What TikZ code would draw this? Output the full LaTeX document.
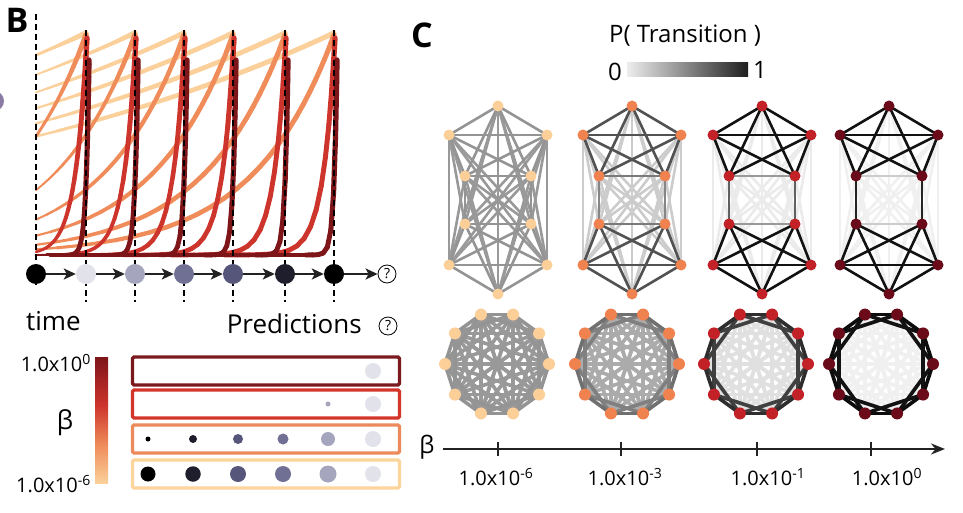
\documentclass[tikz,border=0pt]{standalone}
\usepackage{fontspec}
\setmainfont{Open Sans}
\usetikzlibrary{arrows.meta,calc,positioning}

\definecolor{betaA}{HTML}{FBD09A}
\definecolor{betaC}{HTML}{EF8C5A}
\definecolor{betaE}{HTML}{CD342C}
\definecolor{betaF}{HTML}{7D1519}
\definecolor{nodeA}{HTML}{FDCF98}
\definecolor{nodeB}{HTML}{F0824F}
\definecolor{nodeC}{HTML}{C22127}
\definecolor{nodeD}{HTML}{6B0B19}
\definecolor{stA}{HTML}{000000}
\definecolor{stB}{HTML}{E2E2EA}
\definecolor{stC}{HTML}{A5A5BD}
\definecolor{stD}{HTML}{707094}
\definecolor{stE}{HTML}{56567A}
\definecolor{stF}{HTML}{1E1E2C}
\definecolor{boxA}{HTML}{7B1A1E}
\definecolor{boxB}{HTML}{D4352B}
\definecolor{boxC}{HTML}{EC8A5C}
\definecolor{boxD}{HTML}{FBD59C}
\definecolor{inkgray}{HTML}{222222}
\definecolor{prevpanel}{HTML}{8A7BA5}

\begin{document}
\begin{tikzpicture}[
    x=1pt, y=-1pt,
    txtbig/.style={font=\fontsize{26}{30}\selectfont, inner sep=0pt},
    txtmid/.style={font=\fontsize{24}{28}\selectfont, inner sep=0pt},
    txtlbl/.style={font=\fontsize{20}{24}\selectfont, inner sep=0pt},
    panel/.style={font=\fontsize{34}{38}\selectfont\bfseries, inner sep=0pt},
    guide/.style={black, line width=1.4pt, dash pattern=on 6pt off 4pt},
    state/.style={circle, minimum size=20pt, inner sep=0pt},
    qmark/.style={circle, draw, line width=0.8pt, minimum size=18pt, inner sep=0pt, font=\fontsize{14}{14}\selectfont},
    flow/.style={inkgray, line width=2.2pt, -{Stealth[length=12pt,width=11pt,inset=3pt]}},
    predbox/.style={rectangle, rounded corners=1.5pt, line width=3.2pt, minimum width=267pt, minimum height=28pt, inner sep=0pt},
    dot/.style={circle, inner sep=0pt},
    gnode/.style={circle, minimum size=11pt, inner sep=0pt},
    rnode/.style={circle, minimum size=12pt, inner sep=0pt},
    gedge/.style={line width=2.6pt},
    redge/.style={line width=3.6pt},
    axis/.style={inkgray, line width=2pt, -{Stealth[length=14pt,width=11pt]}}
]
\fill[white] (0,0) rectangle (963,513);
\useasboundingbox (0,0) rectangle (963,513);

% ---------- panel B ----------
\fill[prevpanel] (-6,101) circle (10);
\node[panel] (labB) at (17,20) {B};

% memory traces
\foreach \lam/\col/\ytop/\dx in {475/betaA/33/0, 81/betaC/35/0, 12/betaE/38/1, 3/betaF/60/3} {
  \foreach \xk in {86,135,184,233,285,334} {
    \pgfmathsetmacro\dist{\xk+\dx-36}
    \foreach \seg in {1,...,28} {
      \pgfmathsetmacro\dstart{\dist*((29-\seg)/28)^2}
      \pgfmathsetmacro\dend{\dist*((28-\seg)/28)^2}
      \pgfmathsetmacro\ya{255-(255-\ytop)*exp(-min(\dstart/\lam,9))}
      \pgfmathsetmacro\yb{255-(255-\ytop)*exp(-min(\dend/\lam,9))}
      \pgfmathsetmacro\wd{max(0.6+4.4*(1-exp(-min((\xk+\dx-\dend-20)/70,9))), 0.5+4.8*exp(-min(\dend/60,9)))}
      \draw[\col, line width=\wd pt, line cap=round] ({\xk+\dx-\dstart},\ya) -- ({\xk+\dx-\dend},\yb);
    }
  }
}

% time guides
\draw[guide] (36,14) -- (36,285);
\foreach \xx in {86,135,184,233,285,334}
  \draw[guide] (\xx,30) -- (\xx,302);

% sequence of states
\foreach \xx/\cc [count=\i from 0] in {36/stA,86/stB,135/stC,184/stD,233/stE,285/stF,334/stA}
  \node[state, fill=\cc] (s\i) at (\xx,274) {};
\node[qmark] (s7) at (387,274) {?};
\foreach \i [evaluate=\i as \n using int(\i+1)] in {0,...,6}
  \draw[flow] (s\i) -- (s\n);

\node[txtbig, anchor=base west] (timelbl) at (26,330) {time};
\node[txtbig, anchor=base east] (predlbl) at (362,333) {Predictions};
\node[qmark] (predq) at (388,326) {?};

% beta colour bar
\shade[top color=betaF, bottom color=betaE] (95,357) rectangle (108,405);
\shade[top color=betaE, bottom color=betaC] (95,405) rectangle (108,445);
\shade[top color=betaC, bottom color=betaA] (95,445) rectangle (108,483);
\node[txtlbl, anchor=east] (cbtop) at (91,363) {1.0x10\textsuperscript{0}};
\node[txtlbl, anchor=east] (cbbot) at (91,484) {1.0x10\textsuperscript{-6}};
\node[txtbig] (cbbeta) at (65,423) {β};

% prediction boxes
\foreach \yc/\cc [count=\i] in {371/boxA, 404/boxB, 439/boxC, 474/boxD}
  \node[predbox, draw=\cc] (box\i) at (266,\yc) {};

\node[dot, fill=stB, minimum size=16pt] (p1f) at (373,371) {};
\node[dot, fill=stC, minimum size=5pt] (p2e) at (328,404) {};
\node[dot, fill=stB, minimum size=16pt] (p2f) at (373,404) {};
\foreach \xx/\cc/\sz [count=\i] in {148/stA/5, 193/stF/8, 238/stE/10, 283/stD/11, 328/stC/14, 373/stB/16}
  \node[dot, fill=\cc, minimum size=\sz pt] (p3-\i) at (\xx,439) {};
\foreach \xx/\cc/\sz [count=\i] in {148/stA/15, 193/stF/15.5, 238/stE/16, 283/stD/16, 328/stC/17, 373/stB/16}
  \node[dot, fill=\cc, minimum size=\sz pt] (p4-\i) at (\xx,474) {};

% ---------- panel C ----------
\node[panel] (labC) at (422,35) {C};
\node[txtmid] (ptitle) at (685,36) {P( Transition )};
\shade[left color=black!7, right color=black!88] (627,63) rectangle (748,77);
\node[txtmid, anchor=east] (pzero) at (622,72) {0};
\node[txtmid, anchor=west] (pone) at (753,70) {1};

% modular graphs
\foreach \g/\cx/\nc/\cm/\cxx/\cb/\cn in {1/498/nodeA/42/42/42/40, 2/632/nodeB/68/48/52/20, 3/762/nodeC/93/62/40/8, 4/889/nodeD/93/86/20/6} {
  \foreach \k/\ox/\oy in {1/0/-94, 2/-49/-65, 3/49/-65, 4/-33/-24, 5/33/-24, 6/-33/24, 7/33/24, 8/-49/65, 9/49/65, 10/0/94}
    \coordinate (t\g-\k) at (\cx+\ox,200+\oy);
  \foreach \a/\b in {1/6,1/7,1/8,1/9,1/10,2/6,2/7,2/8,2/9,2/10,3/6,3/7,3/8,3/9,3/10,4/7,4/8,4/9,4/10,5/6,5/8,5/9,5/10}
    \draw[gedge, black!\cn] (t\g-\a) -- (t\g-\b);
  \foreach \a/\b in {4/5,6/7}
    \draw[gedge, black!\cb] (t\g-\a) -- (t\g-\b);
  \foreach \a/\b in {4/6,5/7}
    \draw[gedge, black!\cxx] (t\g-\a) -- (t\g-\b);
  \foreach \a/\b in {1/2,1/3,1/4,1/5,2/3,2/4,2/5,3/4,3/5,6/8,6/9,6/10,7/8,7/9,7/10,8/9,8/10,9/10}
    \draw[gedge, black!\cm] (t\g-\a) -- (t\g-\b);
  \foreach \k in {1,...,10}
    \node[gnode, fill=\nc] (m\g-\k) at (t\g-\k) {};
}

% ring lattices
\foreach \g/\cx/\nc/\dA/\dB/\dC in {1/497/nodeA/42/42/40, 2/627/nodeB/56/50/33, 3/756/nodeC/82/75/12, 4/881/nodeD/95/93/6} {
  \foreach \i in {0,...,9}
    \coordinate (r\g-\i) at ({\cx+52*cos(\i*36)},{364+52*sin(\i*36)});
  \foreach \d/\c in {5/\dC,4/\dC,3/\dC,2/\dB,1/\dA}
    \foreach \i in {0,...,9} {
      \pgfmathtruncatemacro\jj{mod(\i+\d,10)}
      \draw[redge, black!\c] (r\g-\i) -- (r\g-\jj);
    }
  \foreach \i in {0,...,9}
    \node[rnode, fill=\nc] (q\g-\i) at (r\g-\i) {};
}

% beta axis
\coordinate (bax0) at (443,449);
\coordinate (bax1) at (945,449);
\draw[axis] (bax0) -- (bax1);
\node[txtmid] (axbeta) at (427,447) {β};
\foreach \xx/\lx/\ex [count=\i] in {498/496/-6, 621/625/-3, 757/768/-1, 871/887/0} {
  \draw[inkgray, line width=1.6pt] (\xx,442) -- (\xx,456);
  \node[txtlbl] (tick\i) at (\lx,477) {1.0x10\textsuperscript{\ex}};
}
\end{tikzpicture}
\end{document}
